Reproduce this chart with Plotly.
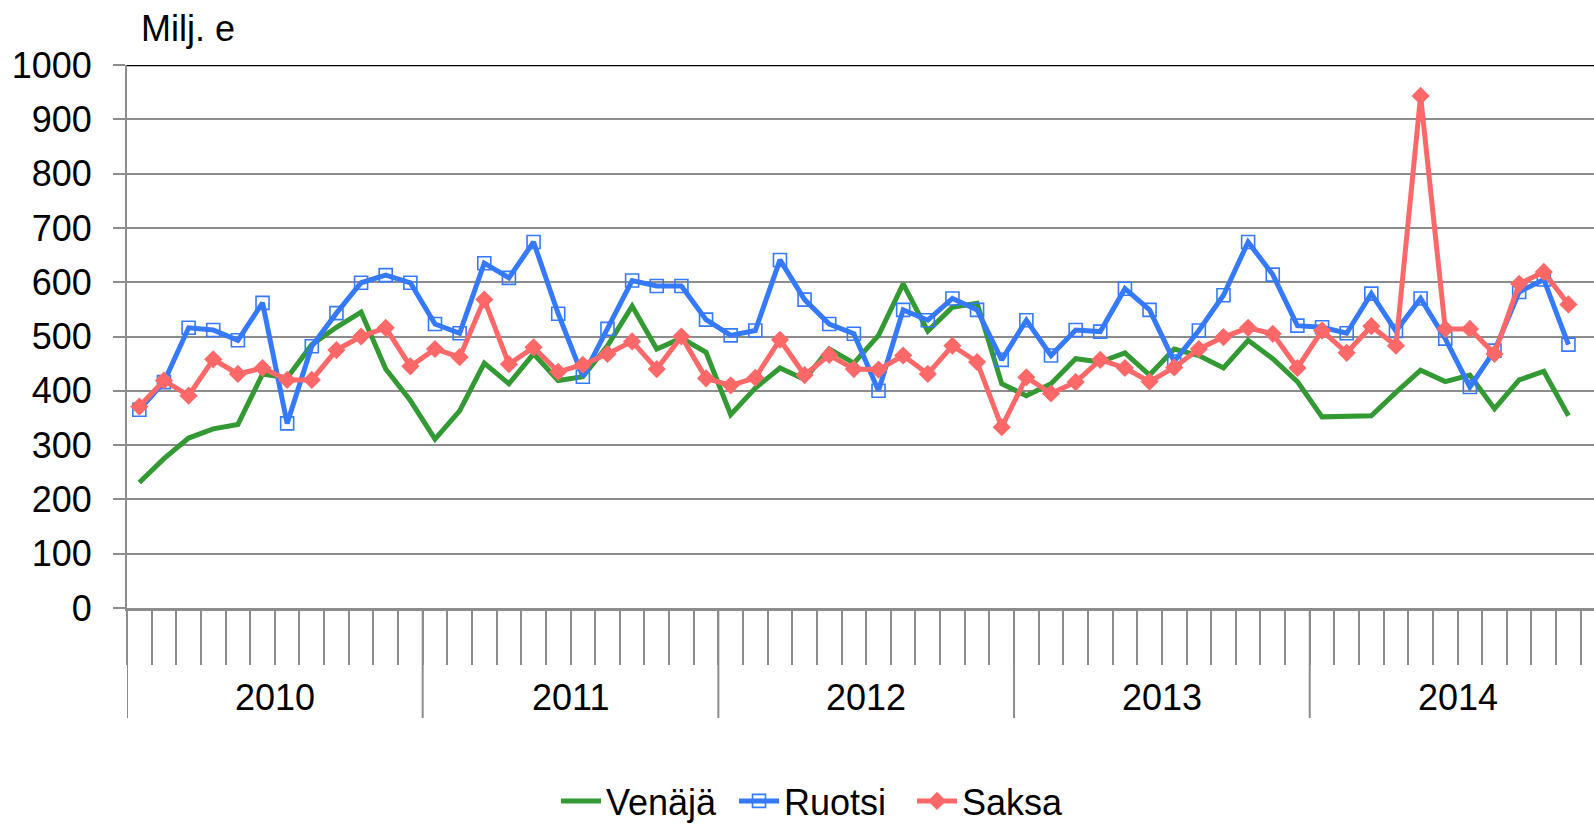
import plotly.graph_objects as go

# Monthly values, Jan 2010 - Nov 2014 (milj. e)
years = ["2010", "2011", "2012", "2013", "2014"]

venaja = [231, 275, 313, 330, 338, 431, 424, 485, 517, 545, 440, 382,
          311, 363, 451, 413, 468, 419, 426, 483, 556, 477, 497, 471,
          356, 405, 442, 421, 477, 451, 502, 597, 510, 554, 561, 413,
          391, 413, 459, 453, 470, 429, 477, 465, 442, 493, 459, 417,
          352, 352, 354, 397, 438, 417, 429, 367, 420, 436, 354]

ruotsi = [365, 416, 516, 512, 493, 562, 340, 482, 543, 599, 613, 599,
          523, 506, 635, 608, 674, 542, 426, 514, 603, 593, 593, 531,
          502, 511, 641, 568, 523, 505, 400, 549, 530, 570, 549, 457,
          530, 465, 512, 509, 588, 549, 454, 511, 576, 674, 614, 520,
          517, 506, 579, 510, 570, 496, 407, 474, 582, 605, 485]

saksa = [371, 419, 391, 458, 431, 442, 420, 420, 475, 500, 516, 445,
         477, 462, 568, 449, 480, 435, 448, 468, 491, 440, 500, 423,
         410, 424, 494, 429, 466, 440, 439, 465, 431, 483, 453, 333,
         425, 395, 416, 457, 442, 417, 443, 477, 499, 516, 505, 442,
         511, 470, 519, 483, 943, 514, 514, 468, 597, 619, 559]

FONT = "Arial, Liberation Sans, sans-serif"
FS = 36
GRID = "#8c8c8c"
GREEN = "#339933"
BLUE = "#3579FF"
RED = "#FF6868"

n_months = 12 * len(years)
x = list(range(len(venaja)))

fig = go.Figure()
fig.add_trace(go.Scatter(x=x, y=venaja, name="Venäjä", mode="lines",
                         line=dict(color=GREEN, width=5)))
fig.add_trace(go.Scatter(x=x, y=ruotsi, name="Ruotsi", mode="lines+markers",
                         line=dict(color=BLUE, width=5),
                         marker=dict(symbol="square-open", size=13,
                                     color=BLUE, line=dict(width=1.6, color=BLUE))))
fig.add_trace(go.Scatter(x=x, y=saksa, name="Saksa", mode="lines+markers",
                         line=dict(color=RED, width=5),
                         marker=dict(symbol="diamond", size=14, color=RED,
                                     line=dict(width=0))))

# plot area: 127 px left margin, month width ~24.64 px, right edge at figure edge
W, H = 1594, 824
ml, mt, mb = 127, 65, 216
plot_w = W - ml
month_px = 24.64
x_end = -0.5 + plot_w / month_px
plot_h = H - mt - mb

shapes = []
# year separators on the category axis
for k in range(len(years) + 1):
    shapes.append(dict(type="line", xref="x", yref="paper",
                       x0=12 * k - 0.5, x1=12 * k - 0.5, y0=0, y1=-110 / plot_h,
                       line=dict(color=GRID, width=2)))
# top border at 1000
shapes.append(dict(type="line", xref="paper", yref="y", x0=0, x1=1, y0=1000, y1=1000,
                   line=dict(color="black", width=2.5)))

annotations = []
for k, yr in enumerate(years):
    annotations.append(dict(x=12 * k + 5.5, y=(608 - 697) / plot_h, xref="x", yref="paper",
                            text=yr, showarrow=False, xanchor="center", yanchor="middle",
                            font=dict(family=FONT, size=FS, color="black")))
annotations.append(dict(x=(139 - ml) / plot_w, y=(608 - 29) / plot_h, xref="paper", yref="paper",
                        text="Milj. e", showarrow=False, xanchor="left", yanchor="middle",
                        font=dict(family=FONT, size=FS, color="black")))

fig.update_layout(
    width=W, height=H,
    margin=dict(l=ml, r=0, t=mt, b=mb, pad=0, autoexpand=False),
    paper_bgcolor="white", plot_bgcolor="white",
    font=dict(family=FONT, size=FS, color="black"),
    showlegend=True,
    legend=dict(orientation="h", x=(823 - ml) / plot_w, y=(608 - 801) / plot_h,
                xanchor="center", yanchor="middle",
                font=dict(family=FONT, size=FS, color="black"),
                itemwidth=40, entrywidth=123, entrywidthmode="pixels",
                tracegroupgap=0, bgcolor="rgba(0,0,0,0)"),
    shapes=shapes,
    annotations=annotations,
)

fig.update_xaxes(
    range=[-0.5, x_end],
    tickmode="array", tickvals=[i - 0.5 for i in range(n_months + 1)],
    showticklabels=False,
    ticks="outside", ticklen=54, tickwidth=2, tickcolor=GRID,
    showline=True, linecolor=GRID, linewidth=3,
    showgrid=False, zeroline=False,
)
fig.update_yaxes(
    range=[0, 1000], tickmode="linear", tick0=0, dtick=100,
    ticks="outside", ticklen=12, tickwidth=2, tickcolor=GRID,
    ticklabelstandoff=14,
    tickfont=dict(family=FONT, size=FS, color="black"),
    showline=True, linecolor=GRID, linewidth=2,
    showgrid=True, gridcolor=GRID, gridwidth=2,
    zeroline=False,
)

fig.write_html("out.html")
